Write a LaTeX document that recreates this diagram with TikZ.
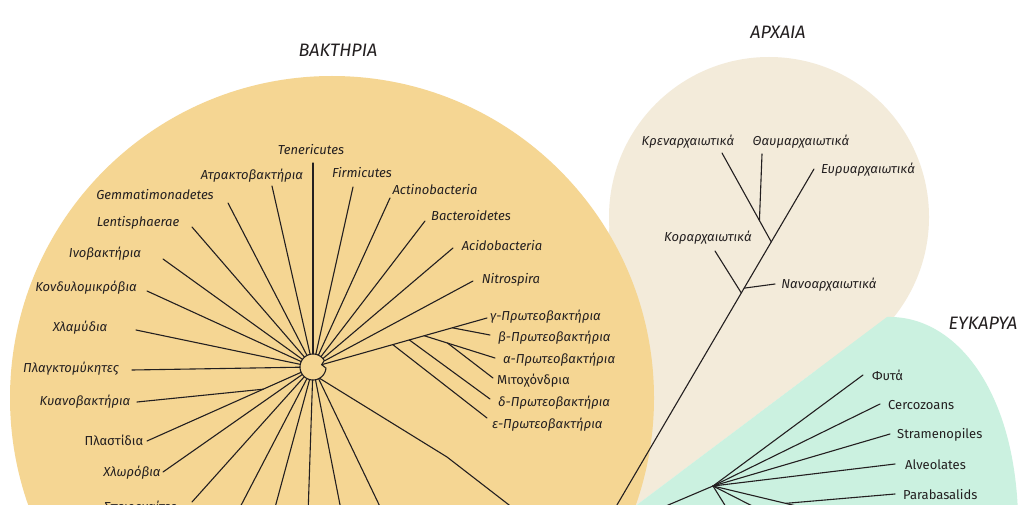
\documentclass[tikz,border=0pt]{standalone}
\usepackage{fontspec}
\setmainfont{Fira Sans}
\usetikzlibrary{calc}
\definecolor{bacfill}{HTML}{F5D693}
\definecolor{arcfill}{HTML}{F3EBDA}
\definecolor{eukfill}{HTML}{CBF1E0}
\definecolor{ink}{HTML}{231F20}
\tikzset{
  branch/.style={line width=1.1pt, draw=ink, line cap=round},
  leaf/.style={font=\itshape\fontsize{13}{15}\selectfont, text=ink, inner sep=0pt},
  leafup/.style={leaf, font=\upshape\fontsize{13}{15}\selectfont},
  realm/.style={font=\itshape\fontsize{18}{20}\selectfont, text=ink, inner sep=0pt}
}
\begin{document}
\begin{tikzpicture}[x=1pt, y=-1pt]
  % Frame
  \clip (0,0) rectangle (1024,505);
  \fill[white] (0,0) rectangle (1024,505);

  % Fields
  \fill[arcfill] (769,217) circle[radius=160pt];
  \fill[arcfill] (612,217) -- (887,317) -- (590,540) -- (540,540) -- cycle;
  \fill[bacfill] (332,398) circle[radius=322pt];
  \fill[eukfill] (590,540) -- (887,317) .. controls (960,315) and (1022,400) .. (1018,540) -- cycle;

  % Titles
  \node[realm] (tBac) at (338,50) {ΒΑΚΤΗΡΙΑ};
  \node[realm] (tArc) at (778,32) {ΑΡΧΑΙΑ};
  \node[realm] (tEuk) at (983,323) {ΕΥΚΑΡΥΑ};

  %Hub
  \def\hx{313}
  \def\hy{367}
  \def\hr{13}
  \path (\hx,\hy) coordinate (hubc);
  \node[circle, minimum size=26pt, inner sep=0pt] (hub) at (hubc) {};
  \path (hubc) ++(-15:9) coordinate (pN);
  \path (hubc) ++(60:\hr) coordinate (bS);
  \draw[branch] (pN) -- plot[domain=5:330, samples=60] ({\hx+\hr*cos(\x)}, {\hy+\hr*sin(\x)}) -- cycle;

  % Bacteria tips
  \path (313,163) coordinate (tTen);
  \path (272,186) coordinate (tAtr);
  \path (228,203) coordinate (tGem);
  \path (192,227) coordinate (tLen);
  \path (163,259) coordinate (tIno);
  \path (147,291) coordinate (tKon);
  \path (136,330) coordinate (tChl);
  \path (132,370) coordinate (tPlg);
  \path (137,402) coordinate (tCya);
  \path (147,441) coordinate (tPls);
  \path (163,472) coordinate (tChb);
  \path (192,502) coordinate (tSpi);
  \path (236,515) coordinate (tB1);
  \path (273,515) coordinate (tB2);
  \path (308,515) coordinate (tB3);
  \path (342,515) coordinate (tB4);
  \path (384,515) coordinate (tB5);
  \path (353,187) coordinate (tFir);
  \path (390,198) coordinate (tAct);
  \path (425,221) coordinate (tBcd);
  \path (453,248) coordinate (tAci);
  \path (473,281) coordinate (tNit);
  \path ($(hubc)!0.3!(tPls)$) coordinate (jCya);

  % Bacteria rays
  \draw[branch] (hub) -- (tTen);
  \draw[branch] (hub) -- (tAtr);
  \draw[branch] (hub) -- (tGem);
  \draw[branch] (hub) -- (tLen);
  \draw[branch] (hub) -- (tIno);
  \draw[branch] (hub) -- (tKon);
  \draw[branch] (hub) -- (tChl);
  \draw[branch] (hub) -- (tPlg);
  \draw[branch] (hub) -- (tPls);
  \draw[branch] (jCya) -- (tCya);
  \draw[branch] (hub) -- (tChb);
  \draw[branch] (hub) -- (tSpi);
  \draw[branch] (hub) -- (tB1);
  \draw[branch] (hub) -- (tB2);
  \draw[branch] (hub) -- (tB3);
  \draw[branch] (hub) -- (tB4);
  \draw[branch] (hub) -- (tB5);
  \draw[branch] (hub) -- (tFir);
  \draw[branch] (hub) -- (tAct);
  \draw[branch] (hub) -- (tBcd);
  \draw[branch] (hub) -- (tAci);
  \draw[branch] (hub) -- (tNit);

  % Proteobacteria
  \path (487,318) coordinate (tGam);
  \path (490,335) coordinate (tBet);
  \path (495,358) coordinate (tAlp);
  \path (493,378) coordinate (tMit);
  \path (490,399) coordinate (tDel);
  \path (487,418) coordinate (tEps);
  \path ($(pN)!0.43!(tGam)$) coordinate (nEps);
  \path ($(pN)!0.53!(tGam)$) coordinate (nDel);
  \path ($(pN)!0.62!(tGam)$) coordinate (nAlp);
  \path ($(pN)!0.79!(tGam)$) coordinate (nBet);
  \path ($(nAlp)!0.33!(tAlp)$) coordinate (nMit);
  \draw[branch] (pN) -- (tGam);
  \draw[branch] (nBet) -- (tBet);
  \draw[branch] (nAlp) -- (tAlp);
  \draw[branch] (nMit) -- (tMit);
  \draw[branch] (nDel) -- (tDel);
  \draw[branch] (nEps) -- (tEps);

  % Trunk of the bacteria
  \path (447,457) coordinate (bK);
  \path (522,515) coordinate (bEnd);
  \draw[branch] (bS) -- (bK) -- (bEnd);

  % Bacteria labels
  \node[leaf] (lTen) at (311,150) {Tenericutes};
  \node[leaf] (lAtr) at (252,176) {Ατρακτοβακτήρια};
  \node[leaf] (lGem) at (155,195) {Gemmatimonadetes};
  \node[leaf] (lLen) at (138,223) {Lentisphaerae};
  \node[leaf] (lIno) at (105,254) {Ινοβακτήρια};
  \node[leaf] (lKon) at (86,288) {Κονδυλομικρόβια};
  \node[leaf] (lChl) at (80,328) {Χλαμύδια};
  \node[leaf] (lPlg) at (71,369) {Πλαγκτομύκητες};
  \node[leaf] (lCya) at (85,402) {Κυανοβακτήρια};
  \node[leafup] (lPls) at (114,440) {Πλαστίδια};
  \node[leaf] (lChb) at (132,473) {Χλωρόβια};
  \node[leaf] (lSpi) at (140,508) {Σπειροχαίτες};
  \node[leaf] (lFir) at (362,173) {Firmicutes};
  \node[leaf] (lAct) at (435,190) {Actinobacteria};
  \node[leaf] (lBcd) at (471,216) {Bacteroidetes};
  \node[leaf] (lAci) at (502,246) {Acidobacteria};
  \node[leaf] (lNit) at (511,280) {Nitrospira};
  \node[leaf, anchor=west] (lGam) at (490,317) {γ-Πρωτεοβακτήρια};
  \node[leaf, anchor=west] (lBet) at (498,338) {β-Πρωτεοβακτήρια};
  \node[leaf, anchor=west] (lAlp) at (503,360) {α-Πρωτεοβακτήρια};
  \node[leafup, anchor=west] (lMit) at (497,381) {Μιτοχόνδρια};
  \node[leaf, anchor=west] (lDel) at (498,403) {δ-Πρωτεοβακτήρια};
  \node[leaf, anchor=west] (lEps) at (492,425) {ε-Πρωτεοβακτήρια};

  % Archaea
  \path (722,153) coordinate (aKre);
  \path (762,154) coordinate (aTha);
  \path (814,169) coordinate (aEur);
  \path (715,251) coordinate (aKor);
  \path (775,284) coordinate (aNan);
  \path (597,539) coordinate (aRoot);
  \path ($(aEur)!0.197!(aRoot)$) coordinate (nA1);
  \path ($(aEur)!0.335!(aRoot)$) coordinate (nA2);
  \path ($(aEur)!0.322!(aRoot)$) coordinate (nA3);
  \path ($(aKre)!0.76!(nA1)$) coordinate (nA0);
  \draw[branch] (aEur) -- (aRoot);
  \draw[branch] (aKre) -- (nA1);
  \draw[branch] (aTha) -- (nA0);
  \draw[branch] (aKor) -- (nA2);
  \draw[branch] (aNan) -- (nA3);
  \node[leaf] (lKre) at (688,142) {Κρεναρχαιωτικά};
  \node[leaf] (lTha) at (801,142) {Θαυμαρχαιωτικά};
  \node[leaf] (lEur) at (868,170) {Ευρυαρχαιωτικά};
  \node[leaf] (lKor) at (708,238) {Κοραρχαιωτικά};
  \node[leaf] (lNan) at (829,285) {Νανοαρχαιωτικά};

  % Eukarya
  \path (713,486) coordinate (eH);
  \path (863,375) coordinate (eFyt);
  \path (880,404) coordinate (eCer);
  \path (890,434) coordinate (eStr);
  \path (895,464) coordinate (eAlv);
  \path (895,494) coordinate (ePar);
  \path (830,514) coordinate (eX);
  \path (770,515) coordinate (eY);
  \path (731,515) coordinate (eZ);
  \path (640,517) coordinate (eRoot);
  \path ($(eH)!0.62!(eX)$) coordinate (nP);
  \draw[branch] (eH) -- (eFyt);
  \draw[branch] (eH) -- (eCer);
  \draw[branch] (eH) -- (eStr);
  \draw[branch] (eH) -- (eAlv);
  \draw[branch] (eH) -- (eX);
  \draw[branch] (nP) -- (ePar);
  \draw[branch] (eH) -- (eY);
  \draw[branch] (eH) -- (eZ);
  \draw[branch] (eH) -- (eRoot);
  \node[leafup, anchor=west] (lFyt) at (872,375) {Φυτά};
  \node[leafup, anchor=west] (lCer) at (888,405) {Cercozoans};
  \node[leafup, anchor=west] (lStr) at (897,435) {Stramenopiles};
  \node[leafup, anchor=west] (lAlv) at (905,465) {Alveolates};
  \node[leafup, anchor=west] (lPar) at (903,495) {Parabasalids};
\end{tikzpicture}
\end{document}
